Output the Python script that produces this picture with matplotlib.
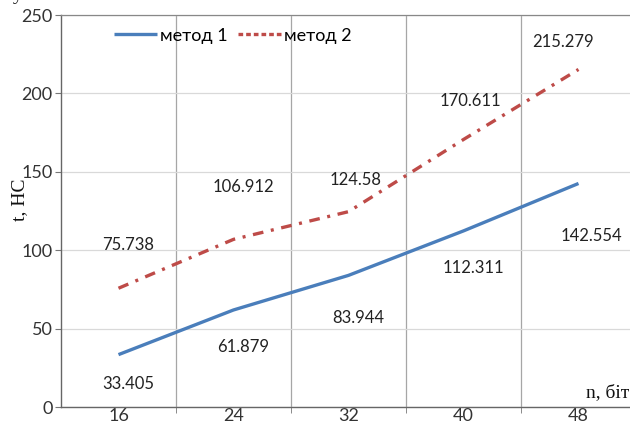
import matplotlib
matplotlib.use("Agg")
import matplotlib.pyplot as plt
from matplotlib.lines import Line2D

categories = ["16", "24", "32", "40", "48"]
method1 = [33.405, 61.879, 83.944, 112.311, 142.554]
method2 = [75.738, 106.912, 124.58, 170.611, 215.279]
series_names = ["метод 1", "метод 2"]
y_ticks = [0, 50, 100, 150, 200, 250]

# label offsets (points) for annotation placement
off1 = [(7, -21), (7, -27), (7, -31), (7, -27), (9, -38)]
off2 = [(7, 31), (7, 38), (5, 23), (5, 28), (-11, 20)]

sans = ["Lato", "DejaVu Sans"]
serif = ["Liberation Serif", "DejaVu Serif"]
c1, c2 = "#4A7EBB", "#BE4B48"

fig = plt.figure(figsize=(6.3, 4.23), dpi=100)
ax = fig.add_axes([61/630, 16/423, 575/630, 392/423])
x = list(range(len(categories)))

ax.plot(x, method1, color=c1, lw=2.4, solid_capstyle="butt")
ax.plot(x, method2, color=c2, lw=2.4, dashes=(3.2, 2.3, 0.9, 2.3), dash_capstyle="butt")

for xi, v, o in zip(x, method1, off1):
    ax.annotate(f"{v:g}", (xi, v), xytext=o, textcoords="offset points",
                ha="center", va="center", fontsize=12, family=sans, color="#222222")
for xi, v, o in zip(x, method2, off2):
    ax.annotate(f"{v:g}", (xi, v), xytext=o, textcoords="offset points",
                ha="center", va="center", fontsize=12, family=sans, color="#222222")

ax.set_xlim(-0.5, len(categories) - 0.5)
ax.set_ylim(0, 250)
ax.set_yticks(y_ticks)
ax.set_yticklabels([str(t) for t in y_ticks], family=sans, fontsize=13, color="#333333")
ax.set_xticks(x)
ax.set_xticklabels(categories, family=sans, fontsize=13, color="#333333")
ax.set_xticks([i + 0.5 for i in x[:-1]], minor=True)
ax.tick_params(axis="x", which="major", length=0, pad=1)
ax.tick_params(axis="x", which="minor", length=4, color="#777777")
ax.tick_params(axis="y", length=4, color="#777777", pad=2)

ax.grid(axis="y", color="#D9D9D9", lw=0.9)
ax.grid(axis="x", which="minor", color="#A6A6A6", lw=0.9)
ax.set_axisbelow(True)
for s in ["left", "bottom"]:
    ax.spines[s].set_color("#666666")
    ax.spines[s].set_linewidth(1.0)
ax.spines["top"].set_color("#888888")
ax.spines["top"].set_linewidth(0.9)
ax.spines["right"].set_visible(False)

handles = [Line2D([], [], color=c1, lw=2.4, solid_capstyle="butt"),
           Line2D([], [], color=c2, lw=2.4, dashes=(1.4, 0.9), dash_capstyle="butt")]
ax.legend(handles, series_names, loc="upper left", bbox_to_anchor=(0.07, 1.0), ncol=2,
          frameon=False, prop={"family": sans, "size": 13}, handlelength=2.4,
          handletextpad=0.15, columnspacing=0.6, borderaxespad=0.3)

fig.text(20/630, 1 - 200/423, "t, НС", rotation=90, ha="center", va="center",
         family=serif, fontsize=14, color="#111111")
fig.text(608/630, 1 - 393/423, "n, біт", ha="center", va="center",
         family=serif, fontsize=14, color="#111111")
fig.text(18/630, 1 + 4/423, "y", ha="center", va="center",
         family=serif, fontsize=14, color="#111111")

fig.savefig("out.png", dpi=100)
